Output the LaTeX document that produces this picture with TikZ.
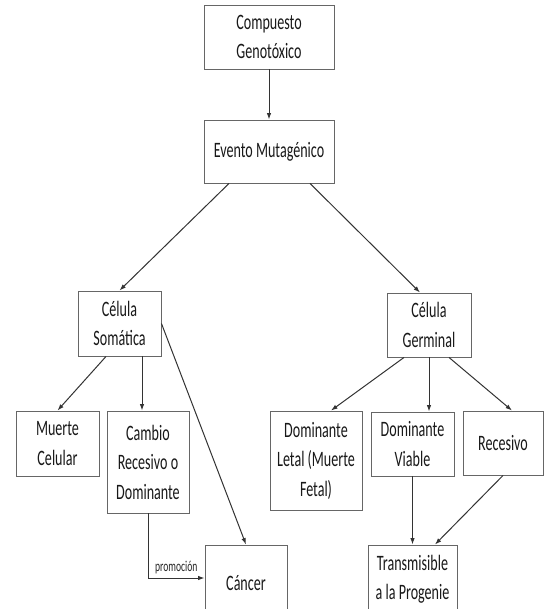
\documentclass[tikz,border=0pt]{standalone}
\usepackage{fontspec}
\usetikzlibrary{arrows.meta}
\newfontfamily\cajafont{Carlito}[FakeStretch=0.64]

\begin{document}
\begin{tikzpicture}[x=1pt,y=-1pt,
        caja/.style={draw=black!60, line width=0.9pt, align=center, inner sep=0pt,
            text=black!90, font={\cajafont\fontsize{22}{29.5}\selectfont}},
        flecha/.style={-{Latex[length=6.5pt,width=4.5pt]}, line width=1pt, black!80}]
        % Page
        \clip (0,0) rectangle (544,609);
        \fill[white] (0,0) rectangle (544,609);

        % Top of the chain
        \node[caja, minimum width=130pt, minimum height=64pt] (comp) at (269,37) {Compuesto\\Genotóxico};
        \node[caja, minimum width=130pt, minimum height=63pt] (evento) at (269,151.5) {Evento Mutagénico};

        % Somatic branch
        \node[caja, minimum width=83pt, minimum height=65pt] (soma) at (119.5,323.5) {Célula\\Somática};
        \node[caja, minimum width=83pt, minimum height=65pt] (muerte) at (57.5,443.5) {Muerte\\Celular};
        \node[caja, minimum width=82pt, minimum height=102pt] (cambio) at (148,462) {Cambio\\Recesivo o\\Dominante};
        \node[caja, minimum width=82pt, minimum height=76pt] (cancer) at (246,583) {Cáncer};

        % Germinal branch
        \node[caja, minimum width=84pt, minimum height=64pt] (germ) at (429,325) {Célula\\Germinal};
        \node[caja, minimum width=92pt, minimum height=99pt] (letal) at (316,460.5) {Dominante\\Letal (Muerte\\Fetal)};
        \node[caja, minimum width=83pt, minimum height=64pt] (viable) at (412.5,444) {Dominante\\Viable};
        \node[caja, minimum width=80pt, minimum height=64pt] (reces) at (503,443) {Recesivo};
        \node[caja, minimum width=89pt, minimum height=68pt] (trans) at (412.5,579) {Transmisible\\a la Progenie};

        % Draw the arrows
        \draw[flecha] (comp) -- (evento);
        \draw[flecha] ([xshift=-40pt]evento.south) -- (soma.north);
        \draw[flecha] ([xshift=41pt]evento.south) -- ([xshift=-9pt]germ.north);
        %Somatica
        \draw[flecha] ([xshift=-13.5pt]soma.south) -- (muerte.north);
        \draw[flecha] ([xshift=22.5pt]soma.south) -- ([xshift=-6pt]cambio.north);
        \draw[flecha] (soma.east) -- (cancer.north);
        \draw[flecha] (cambio.south) |- node[pos=0.75, above, text=black!85,
            font={\cajafont\fontsize{15}{18}\selectfont}] {promoción} ([yshift=5pt]cancer.west);
        %Germinal
        \draw[flecha] ([xshift=-25pt]germ.south) -- ([xshift=15pt]letal.north);
        \draw[flecha] (germ.south) -- (germ.south |- viable.north);
        \draw[flecha] ([xshift=20pt]germ.south) -- ([xshift=9pt]reces.north);
        \draw[flecha] (viable.south) -- (trans.north);
        \draw[flecha] (reces.south) -- ([xshift=22.5pt]trans.north);
    \end{tikzpicture}
\end{document}
